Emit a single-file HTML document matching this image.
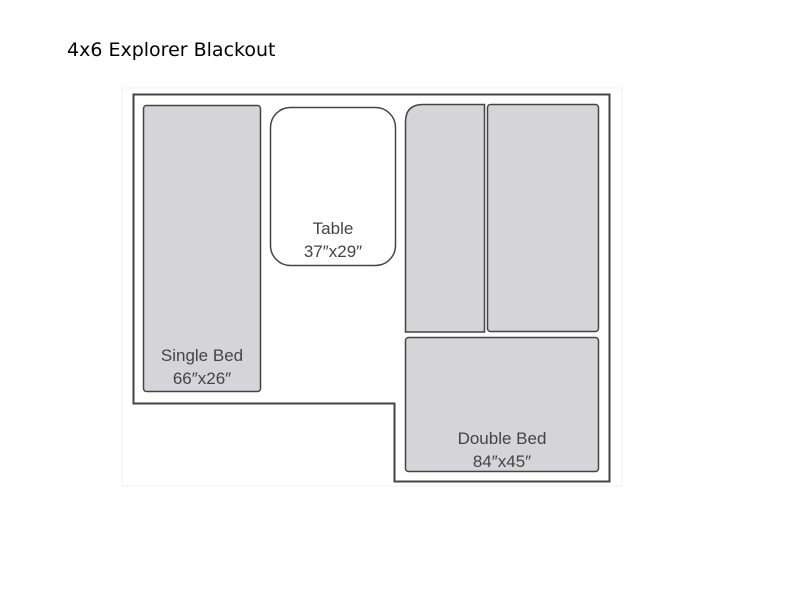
<!DOCTYPE html>
<html><head><style>
body{margin:0;background:#fff;width:800px;height:600px;overflow:hidden;font-family:"DejaVu Sans","Liberation Sans",sans-serif}
.t{position:absolute;left:67px;top:39px;font-size:19px;color:#000}
</style></head><body>
<div class="t">4x6 Explorer Blackout</div>
<svg width="800" height="600" style="position:absolute;left:0;top:0" font-family="Liberation Sans, sans-serif">
<rect x="122" y="88" width="500" height="398" fill="none" stroke="#f2f2f2" stroke-width="1"/>
<polygon points="133.5,94.5 609.5,94.5 609.5,481.5 394.5,481.5 394.5,403.5 133.5,403.5" fill="#fff" stroke="#444" stroke-width="2"/>
<g fill="#d5d5d7" stroke="#444" stroke-width="1.5">
<rect x="143.5" y="105.5" width="117" height="286" rx="3"/>
<rect x="270.5" y="107.5" width="125" height="158" rx="20" fill="#fff"/>
<path d="M405.5,332 L405.5,122 Q405.5,104.5 423,104.5 L484.5,104.5 L484.5,332 Z"/>
<rect x="487.5" y="104.5" width="111" height="227" rx="3"/>
<rect x="405.5" y="337.5" width="193" height="134" rx="3"/>
</g>
<g fill="#444" font-size="17" text-anchor="middle">
<text x="333" y="234">Table</text><text x="333" y="257">37″x29″</text>
<text x="202" y="361">Single Bed</text><text x="202" y="384">66″x26″</text>
<text x="502" y="444">Double Bed</text><text x="502" y="467">84″x45″</text>
</g>
</svg>
</body></html>
